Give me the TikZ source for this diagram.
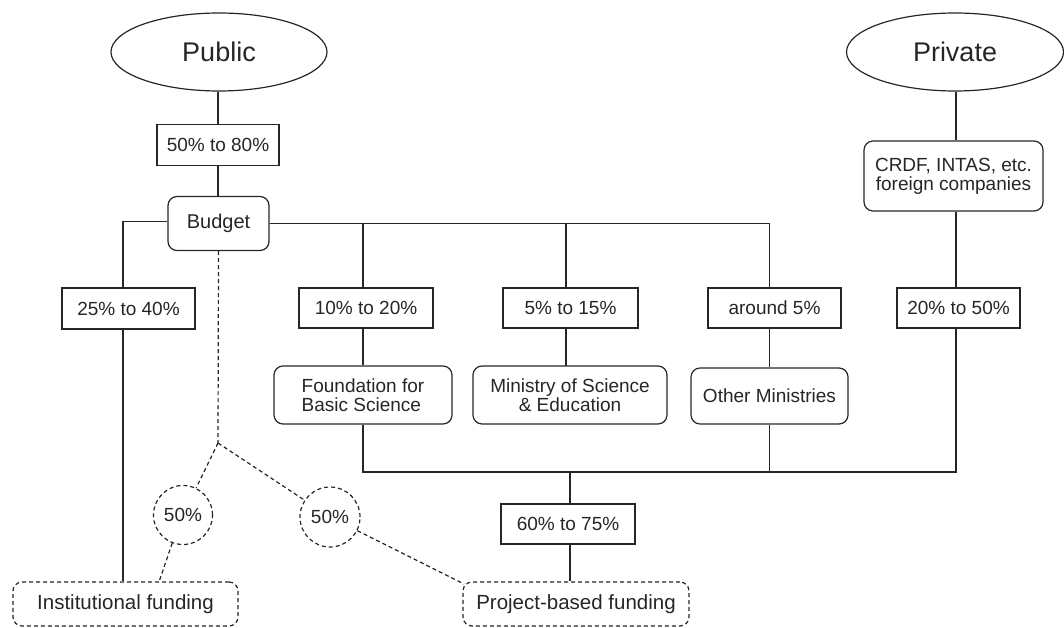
\documentclass[tikz,border=0pt]{standalone}
\usepackage{fontspec}
\setmainfont{Liberation Sans}
\usetikzlibrary{shapes.geometric}
\begin{document}
\begin{tikzpicture}[x=1pt,y=-1pt,
  every node/.style={inner sep=0pt,font=\fontsize{19}{21}\selectfont},
  ln/.style={line width=1.2pt,black!85},
  dsh/.style={line width=1.2pt,black!85,dash pattern=on 4pt off 3pt},
  oval/.style={ellipse,draw,ln,font=\fontsize{27}{30}\selectfont},
  pct/.style={rectangle,draw,ln},
  rbox/.style={rectangle,rounded corners=9pt,draw,ln,align=center},
  dbox/.style={rectangle,rounded corners=9pt,draw,dsh,font=\fontsize{20.5}{23}\selectfont},
  dcirc/.style={circle,draw,dsh}]
\useasboundingbox (0,0) rectangle (1064,628);
% nodes
\node[oval,minimum width=216pt,minimum height=78pt] (pub) at (219,52) {Public};
\node[oval,minimum width=217pt,minimum height=78pt] (priv) at (955,52) {Private};
\node[pct,minimum width=122pt,minimum height=41pt] (p5080) at (218,145) {50\% to 80\%};
\node[rbox,minimum width=101pt,minimum height=54pt,font=\fontsize{20}{22}\selectfont] (budget) at (218.5,223.5) {Budget};
\node[rbox,minimum width=179pt,minimum height=70pt,font=\fontsize{19}{19}\selectfont] (crdf) at (953.5,176) {CRDF, INTAS, etc.\\foreign companies};
\node[pct,minimum width=133pt,minimum height=41pt] (p2540) at (128.5,308.5) {25\% to 40\%};
\node[pct,minimum width=134pt,minimum height=40pt] (p1020) at (366,308) {10\% to 20\%};
\node[pct,minimum width=135pt,minimum height=40pt] (p515) at (570.5,308) {5\% to 15\%};
\node[pct,minimum width=133pt,minimum height=40pt] (pa5) at (774.5,308) {around 5\%};
\node[pct,minimum width=123pt,minimum height=40pt] (p2050) at (958.5,308) {20\% to 50\%};
\node[rbox,minimum width=178pt,minimum height=58pt,align=left,font=\fontsize{19}{19}\selectfont] (fbs) at (363,395) {Foundation for\\Basic Science};
\node[rbox,minimum width=194pt,minimum height=58pt,font=\fontsize{19}{19}\selectfont] (mse) at (570,395) {Ministry of Science\\\& Education};
\node[rbox,minimum width=157pt,minimum height=56pt] (om) at (769.5,396) {Other Ministries};
\node[pct,minimum width=134pt,minimum height=40pt] (p6075) at (568,524) {60\% to 75\%};
\node[dcirc,minimum size=59pt] (c1) at (183,515) {50\%};
\node[dcirc,minimum size=60pt] (c2) at (330,517) {50\%};
\node[dbox,minimum width=225pt,minimum height=44pt] (inst) at (125.5,604) {Institutional funding};
\node[dbox,minimum width=226pt,minimum height=44pt] (proj) at (576,604) {Project-based funding};
% coordinates
\coordinate (bl) at (123,221.5);
\coordinate (br) at (769.5,223.5);
\coordinate (hl) at (363,472);
\coordinate (hr) at (956,472);
\coordinate (hm) at (570,472);
\coordinate (split) at (218,443);
\coordinate (ia) at (159,582);
\coordinate (pa) at (464,584);
% solid connectors
\draw[ln] (pub.south -| p5080.north) -- (p5080.north);
\draw[ln] (p5080.south) -- (budget.north -| p5080.south);
\draw[ln] (budget.west |- bl) -- (bl) -- (bl |- p2540.north);
\draw[ln] (bl |- p2540.south) -- (bl |- inst.north);
\draw[ln] (budget.east) -- (br) -- (br |- pa5.north);
\draw[ln] (hl |- br) -- (hl |- p1020.north);
\draw[ln] (hl |- p1020.south) -- (fbs.north);
\draw[ln] (566,223.5) -- (566,288);
\draw[ln] (566,328) -- (566,366);
\draw[ln] (br |- pa5.south) -- (br |- om.north);
\draw[ln] (hr |- priv.south) -- (hr |- crdf.north);
\draw[ln] (hr |- crdf.south) -- (hr |- p2050.north);
\draw[ln] (hr |- p2050.south) -- (hr) -- (hl) -- (fbs.south);
\draw[ln] (om.south) -- (om.south |- hl);
\draw[ln] (hm) -- (hm |- p6075.north);
\draw[ln] (hm |- p6075.south) -- (hm |- proj.north);
% dashed connectors
\draw[dsh] (budget.south) -- (split);
\draw[dsh] (split) -- (c1);
\draw[dsh] (split) -- (c2);
\draw[dsh] (c1.249) -- (ia);
\draw[dsh] (c2) -- (pa);
\end{tikzpicture}
\end{document}
